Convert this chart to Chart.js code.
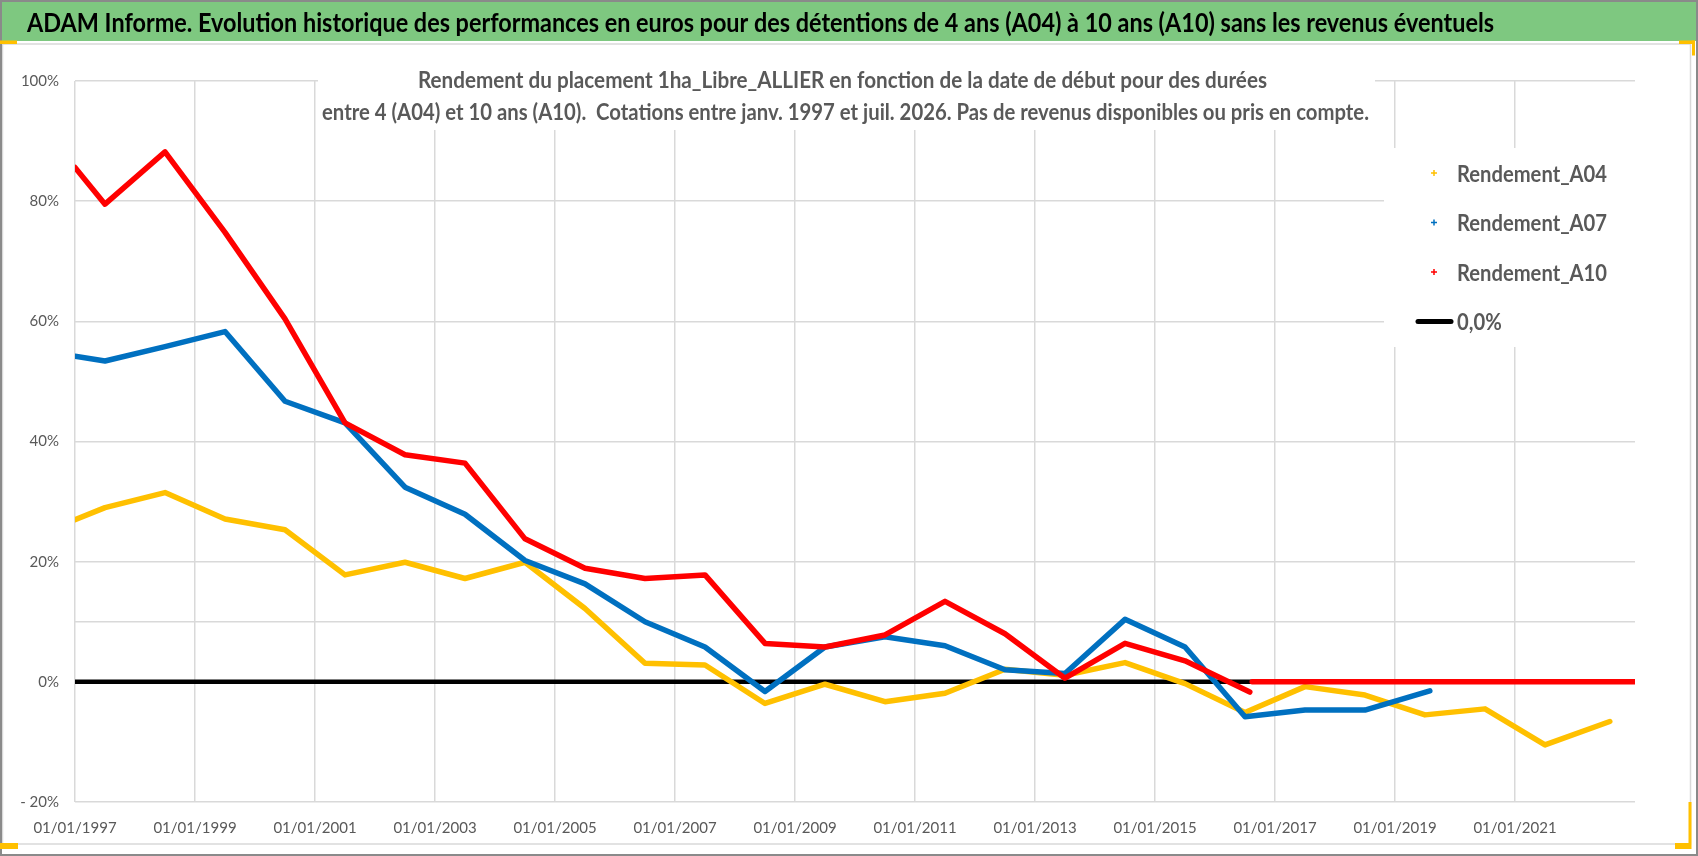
<!DOCTYPE html>
<html lang="fr">
<head>
<meta charset="utf-8">
<title>ADAM Informe - Rendement 1ha_Libre_ALLIER</title>
<script src="https://cdn.jsdelivr.net/npm/chart.js@4.4.1/dist/chart.umd.min.js"></script>
<style>
  html, body { margin: 0; padding: 0; background: #fff; }
  #wrap { width: 1698px; height: 856px; position: relative; }
</style>
</head>
<body>
<div id="wrap"><canvas id="chart"></canvas></div>
<script>
// ── Data (dates as decimal years, returns as fractions) ──────
const A04_DATES = [1997.0, 1997.5, 1998.5, 1999.5, 2000.5, 2001.5, 2002.5, 2003.5, 2004.5, 2005.5,
                   2006.5, 2007.5, 2008.5, 2009.5, 2010.5, 2011.5, 2012.5, 2013.5, 2014.5, 2015.5,
                   2016.5, 2017.5, 2018.5, 2019.5, 2020.5, 2021.5, 2022.58];
const A04 = [0.270, 0.290, 0.315, 0.271, 0.253, 0.178, 0.199, 0.172, 0.199, 0.122,
             0.031, 0.028, -0.036, -0.004, -0.033, -0.019, 0.021, 0.011, 0.032, -0.003,
             -0.051, -0.008, -0.022, -0.055, -0.045, -0.105, -0.066];

const A07_DATES = [1997.0, 1997.5, 1998.5, 1999.5, 2000.5, 2001.5, 2002.5, 2003.5, 2004.5, 2005.5,
                   2006.5, 2007.5, 2008.5, 2009.5, 2010.5, 2011.5, 2012.5, 2013.5, 2014.5, 2015.5,
                   2016.5, 2017.5, 2018.5, 2019.58];
const A07 = [0.542, 0.534, 0.558, 0.583, 0.467, 0.431, 0.324, 0.279, 0.202, 0.163,
             0.100, 0.058, -0.016, 0.058, 0.075, 0.060, 0.020, 0.014, 0.104, 0.058,
             -0.058, -0.047, -0.047, -0.015];

// A10 stops mid-2016, then the sheet carries zeros up to the end of the axis
const A10_DATES = [1997.0, 1997.5, 1998.5, 1999.5, 2000.5, 2001.5, 2002.5, 2003.5, 2004.5, 2005.5,
                   2006.5, 2007.5, 2008.5, 2009.5, 2010.5, 2011.5, 2012.5, 2013.5, 2014.5, 2015.5,
                   2016.58, 2016.6, 2016.62, 2023.0];
const A10 = [0.856, 0.795, 0.882, 0.748, 0.604, 0.431, 0.378, 0.364, 0.238, 0.189,
             0.172, 0.178, 0.064, 0.058, 0.078, 0.134, 0.080, 0.006, 0.064, 0.035,
             -0.017, null, 0, 0];

const ZERO_DATES = [1997.0, 2023.0];
const ZERO = [0, 0];

const X_MIN = 1997, X_MAX = 2023, X_STEP = 2, X_LAST_LABEL = 2021;
const Y_TICKS = [-0.2, 0, 0.1, 0.2, 0.4, 0.6, 0.8, 1.0];

const TITLE = 'ADAM Informe. Evolution historique des performances en euros pour des détentions de 4 ans (A04) à 10 ans (A10) sans les revenus éventuels';
const SUBTITLE = [
    'Rendement du placement 1ha_Libre_ALLIER en fonction de la date de début pour des durées',
    'entre 4 (A04) et 10 ans (A10).  Cotations entre janv. 1997 et juil. 2026. Pas de revenus disponibles ou pris en compte.',
];
const LEGEND = [
    { label: 'Rendement_A04', color: '#ffc000', kind: 'cross' },
    { label: 'Rendement_A07', color: '#0070c0', kind: 'cross' },
    { label: 'Rendement_A10', color: '#ff0000', kind: 'cross' },
    { label: '0,0%',          color: '#000000', kind: 'line'  },
];

const FONT = 'Lato, "Open Sans", "Noto Sans", sans-serif';
const GREY_TXT = '#595959';
const GRID = '#d9d9d9';

const pts = (xs, ys) => xs.map((x, i) => ({ x, y: ys[i] }));

// ── Helpers ───────────────────────────────────────────────────
// draw text squeezed/stretched horizontally so it spans exactly `w` px
function fitText(ctx, text, x, y, w) {
    const m = ctx.measureText(text).width;
    ctx.save();
    ctx.translate(x, y);
    ctx.scale(w / m, 1);
    ctx.fillText(text, 0, 0);
    ctx.restore();
}

// ── Frame, header, subtitle and legend ────────────────────────
const decor = {
    id: 'decor',
    beforeDraw(chart) {
        const { ctx, width, height } = chart;
        ctx.save();
        ctx.fillStyle = '#fff';
        ctx.fillRect(0, 0, width, height);

        // green header band
        ctx.fillStyle = '#7ec880';
        ctx.fillRect(2, 2, width - 4, 39);

        // inner chart frame
        ctx.strokeStyle = GRID;
        ctx.lineWidth = 1.5;
        ctx.strokeRect(2.5, 44, 1688, 800);

        // outer border
        ctx.strokeStyle = '#8a8a8a';
        ctx.lineWidth = 2;
        ctx.strokeRect(1, 1, width - 2, height - 2);

        // little yellow corner marks
        ctx.fillStyle = '#ffc000';
        ctx.fillRect(0, 40.5, 17, 3.5);
        ctx.fillRect(1679, 40.5, 16, 3.5);
        ctx.fillRect(1692, 40.5, 3, 15);
        ctx.fillRect(0, 843, 18, 6);
        ctx.fillRect(1688.5, 802, 3, 47);
        ctx.fillRect(1675, 843, 16, 6);

        // title
        ctx.fillStyle = '#000';
        ctx.font = `bold 27px ${FONT}`;
        ctx.textAlign = 'left';
        ctx.textBaseline = 'alphabetic';
        fitText(ctx, TITLE, 27, 32, 1467);
        ctx.restore();
    },
    beforeDatasetsDraw(chart) {
        const { ctx } = chart;
        ctx.save();
        // white boxes of the chart title and the legend hide the gridlines
        ctx.fillStyle = '#fff';
        ctx.fillRect(318, 56, 1057, 74);
        ctx.fillRect(1384, 148, 256, 199);

        ctx.fillStyle = GREY_TXT;
        ctx.font = `bold 22px ${FONT}`;
        ctx.textAlign = 'left';
        ctx.textBaseline = 'alphabetic';
        fitText(ctx, SUBTITLE[0], 418, 88, 849);
        fitText(ctx, SUBTITLE[1], 322, 120, 1047);

        // legend
        ctx.font = `bold 23px ${FONT}`;
        const sx = 150 / ctx.measureText(LEGEND[0].label).width;
        LEGEND.forEach((it, i) => {
            const base = 181.5 + i * 49.5;
            const cy = base - 8.5;
            if (it.kind === 'cross') {
                ctx.strokeStyle = it.color;
                ctx.lineWidth = 1.5;
                ctx.beginPath();
                ctx.moveTo(1431, cy); ctx.lineTo(1437, cy);
                ctx.moveTo(1434, cy - 3); ctx.lineTo(1434, cy + 3);
                ctx.stroke();
            } else {
                ctx.strokeStyle = it.color;
                ctx.lineWidth = 5;
                ctx.lineCap = 'round';
                ctx.beginPath();
                ctx.moveTo(1418, cy); ctx.lineTo(1451, cy);
                ctx.stroke();
            }
            ctx.save();
            ctx.translate(1457, base);
            ctx.scale(sx, 1);
            ctx.fillStyle = GREY_TXT;
            ctx.fillText(it.label, 0, 0);
            ctx.restore();
        });
        ctx.restore();
    },
};

// ── Chart ─────────────────────────────────────────────────────
const lineStyle = { pointRadius: 0, tension: 0, borderWidth: 5.5, borderJoinStyle: 'round', borderCapStyle: 'round', fill: false };

new Chart(document.getElementById('chart'), {
    type: 'line',
    data: {
        datasets: [
            { label: 'Rendement_A10', data: pts(A10_DATES, A10), borderColor: '#ff0000', order: 1, ...lineStyle },
            { label: 'Rendement_A07', data: pts(A07_DATES, A07), borderColor: '#0070c0', order: 2, ...lineStyle },
            { label: 'Rendement_A04', data: pts(A04_DATES, A04), borderColor: '#ffc000', order: 3, ...lineStyle },
            { label: '0,0%',          data: pts(ZERO_DATES, ZERO), borderColor: '#000000', order: 4, ...lineStyle, borderWidth: 4.5 },
        ],
    },
    options: {
        responsive: true, maintainAspectRatio: false, animation: false,
        layout: { padding: { left: 0, right: 63, top: 81, bottom: 0 } },
        plugins: { legend: { display: false }, tooltip: { enabled: false }, title: { display: false } },
        events: [],
        scales: {
            x: {
                type: 'linear', min: X_MIN, max: X_MAX,
                afterFit: s => { s.height = 54; },
                border: { display: false },
                grid: {
                    drawTicks: false, lineWidth: 1.5,
                    color: c => (c.tick && c.tick.value > X_LAST_LABEL) ? 'rgba(0,0,0,0)' : GRID,
                },
                ticks: {
                    stepSize: X_STEP, padding: 17, maxRotation: 0, autoSkip: false,
                    color: GREY_TXT, font: { family: FONT, size: 15 },
                    callback: v => v <= X_LAST_LABEL ? '01/01/' + v : '',
                },
            },
            y: {
                min: -0.2, max: 1.0,
                afterFit: s => { s.width = 75; },
                afterBuildTicks: s => { s.ticks = Y_TICKS.map(v => ({ value: v })); },
                border: { display: false },
                grid: { drawTicks: false, lineWidth: 1.5, color: GRID },
                ticks: {
                    padding: 16, color: GREY_TXT, font: { family: FONT, size: 15 },
                    callback: v => {
                        if (Math.abs(v - 0.1) < 1e-9) return '';
                        const p = Math.round(v * 100);
                        return p < 0 ? '- ' + (-p) + '%' : p + '%';
                    },
                },
            },
        },
    },
    plugins: [decor],
});
</script>
</body>
</html>
